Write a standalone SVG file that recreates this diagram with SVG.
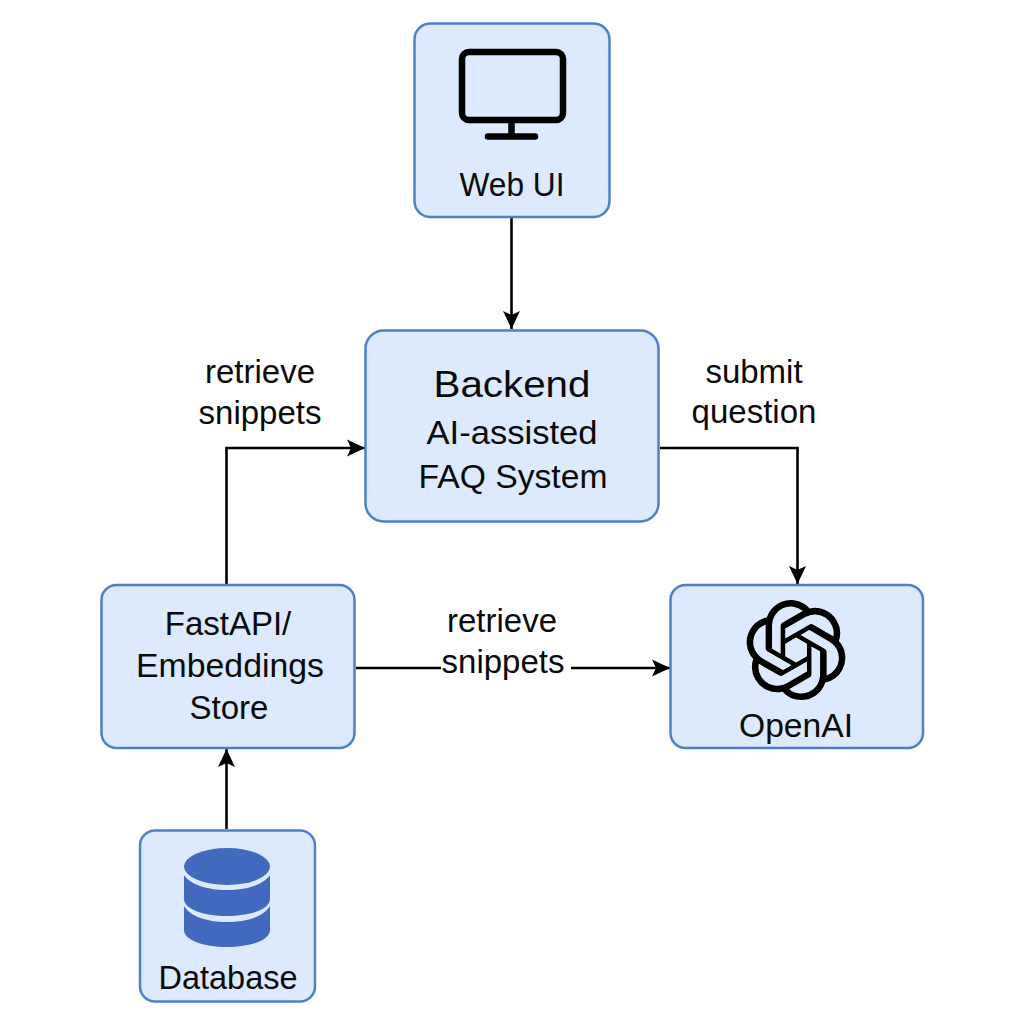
<svg xmlns="http://www.w3.org/2000/svg" width="1024" height="1024" viewBox="0 0 1024 1024">
<defs>
<style>
.box{fill:#dde9fc;stroke:#4f80c6;stroke-width:2.5}
text{font-family:"Liberation Sans",Arial,sans-serif;fill:#0a0a0a;text-anchor:middle}
.l{font-size:33px}
.c{fill:none;stroke:#000;stroke-width:2.6}
.db{fill:#4169bd}
</style>
<marker id="arrow" markerUnits="userSpaceOnUse" markerWidth="20" markerHeight="18" refX="18" refY="9" orient="auto"><path d="M0 0.500L18 9L0 17.500L4 9Z" fill="#000"/></marker>
</defs>
<rect width="1024" height="1024" fill="#fff"/>
<g id="connectors">
<path class="c" d="M511.500 218V329" marker-end="url(#arrow)"/>
<path class="c" d="M226.500 584V448H365" marker-end="url(#arrow)"/>
<path class="c" d="M660 448H797.500V584" marker-end="url(#arrow)"/>
<path class="c" d="M356 668H441M571 668H670" marker-end="url(#arrow)"/>
<path class="c" d="M226.500 829V749" marker-end="url(#arrow)"/>
</g>
<g id="web-ui">
<rect class="box" x="414.500" y="23.500" width="195" height="193.500" rx="16"/>
<rect x="462" y="52" width="101" height="68" rx="7" fill="none" stroke="#000" stroke-width="6.500"/>
<path d="M511.500 122V136.500M488 136.500H535" fill="none" stroke="#000" stroke-width="6.500" stroke-linecap="round"/>
<text class="l" x="512" y="196" textLength="105" lengthAdjust="spacingAndGlyphs">Web UI</text>
</g>
<g id="backend">
<rect class="box" x="365.500" y="330.500" width="293" height="191" rx="18"/>
<text x="512" y="397" font-size="37" textLength="157" lengthAdjust="spacingAndGlyphs">Backend</text>
<text class="l" x="512" y="444" textLength="171" lengthAdjust="spacingAndGlyphs">AI-assisted</text>
<text class="l" x="513" y="488" textLength="189" lengthAdjust="spacingAndGlyphs">FAQ System</text>
</g>
<g id="fastapi">
<rect class="box" x="101.500" y="585" width="253" height="163" rx="15"/>
<text class="l" x="228" y="635">FastAPI/</text>
<text class="l" x="230" y="677" textLength="188" lengthAdjust="spacingAndGlyphs">Embeddings</text>
<text class="l" x="229" y="719">Store</text>
</g>
<g id="openai">
<rect class="box" x="670.500" y="585" width="252.500" height="163" rx="15"/>
<path transform="translate(746 600) scale(4.170)" fill="#000" stroke="#fff" stroke-width="0.150" paint-order="stroke" d="M22.2819 9.8211a5.9847 5.9847 0 0 0-.5157-4.9108 6.0462 6.0462 0 0 0-6.5098-2.9A6.0651 6.0651 0 0 0 4.9807 4.1818a5.9847 5.9847 0 0 0-3.9977 2.9 6.0462 6.0462 0 0 0 .7427 7.0966 5.98 5.98 0 0 0 .511 4.9107 6.051 6.051 0 0 0 6.5146 2.9001A5.9847 5.9847 0 0 0 13.2599 24a6.0557 6.0557 0 0 0 5.7718-4.2058 5.9894 5.9894 0 0 0 3.9977-2.9001 6.0557 6.0557 0 0 0-.7475-7.0729zm-9.022 12.6081a4.4755 4.4755 0 0 1-2.8764-1.0408l.1419-.0804 4.7783-2.7582a.7948.7948 0 0 0 .3927-.6813v-6.7369l2.02 1.1686a.071.071 0 0 1 .038.052v5.5826a4.504 4.504 0 0 1-4.4945 4.4944zm-9.6607-4.1254a4.4708 4.4708 0 0 1-.5346-3.0137l.142.0852 4.783 2.7582a.7712.7712 0 0 0 .7806 0l5.8428-3.3685v2.3324a.0804.0804 0 0 1-.0332.0615L9.74 19.9502a4.4992 4.4992 0 0 1-6.1408-1.6464zM2.3408 7.8956a4.485 4.485 0 0 1 2.3655-1.9728V11.6a.7664.7664 0 0 0 .3879.6765l5.8144 3.3543-2.0201 1.1685a.0757.0757 0 0 1-.071 0l-4.8303-2.7865A4.504 4.504 0 0 1 2.3408 7.872zm16.5963 3.8558L13.1038 8.364 15.1192 7.2a.0757.0757 0 0 1 .071 0l4.8303 2.7913a4.4944 4.4944 0 0 1-.6765 8.1042v-5.6772a.79.79 0 0 0-.407-.667zm2.0107-3.0231l-.142-.0852-4.7735-2.7818a.7759.7759 0 0 0-.7854 0L9.409 9.2297V6.8974a.0662.0662 0 0 1 .0284-.0615l4.8303-2.7866a4.4992 4.4992 0 0 1 6.6802 4.66zM8.3065 12.863l-2.02-1.1638a.0804.0804 0 0 1-.038-.0567V6.0742a4.4992 4.4992 0 0 1 7.3757-3.4537l-.142.0805L8.704 5.459a.7948.7948 0 0 0-.3927.6813zm1.0976-2.3654l2.602-1.4998 2.6069 1.4998v2.9994l-2.5974 1.4997-2.6067-1.4997Z"/>
<text class="l" x="796" y="737" textLength="114" lengthAdjust="spacingAndGlyphs">OpenAI</text>
</g>
<g id="database">
<rect class="box" x="140" y="830.500" width="175" height="171" rx="15"/>
<path class="db" d="M184 906C190 916 206 922 227 922C248 922 264 916 270 906V930C270 940 251 947 227 947C203 947 184 940 184 930Z"/>
<path class="db" d="M184 875C190 884 206 890 227 890C248 890 264 884 270 875V899C270 909 251 916 227 916C203 916 184 909 184 899Z"/>
<ellipse class="db" cx="227" cy="866.500" rx="43" ry="18.500"/>
<text class="l" x="228" y="989" font-size="33" textLength="139" lengthAdjust="spacingAndGlyphs">Database</text>
</g>
<g id="labels">
<text class="l" x="260" y="383">retrieve</text>
<text class="l" x="260" y="424">snippets</text>
<text class="l" x="754" y="383">submit</text>
<text class="l" x="754" y="423">question</text>
<text class="l" x="502" y="632">retrieve</text>
<text class="l" x="503" y="673">snippets</text>
</g>
</svg>
